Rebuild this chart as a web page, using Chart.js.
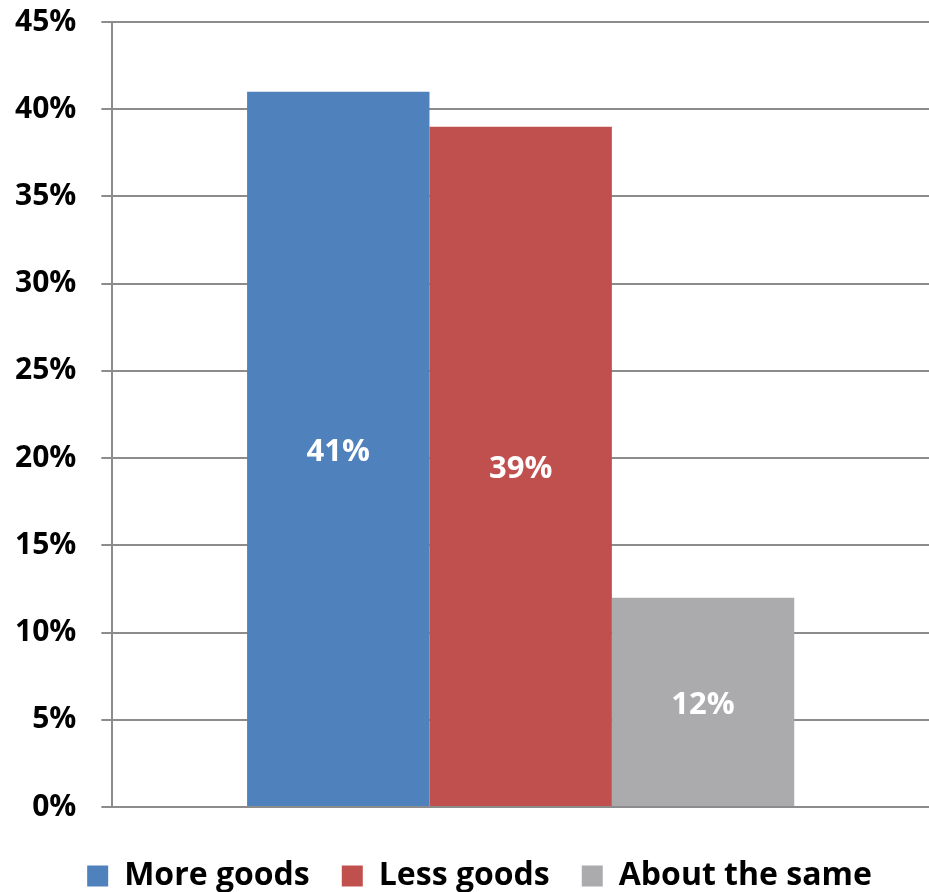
<!DOCTYPE html>
<html>
<head>
<meta charset="utf-8">
<script src="https://cdn.jsdelivr.net/npm/chart.js@4.4.0/dist/chart.umd.min.js"></script>
<style>
  html, body { margin: 0; padding: 0; background: #fff; }
  #wrap { width: 929px; height: 892px; }
</style>
</head>
<body>
<div id="wrap"><canvas id="goodsChart" width="929" height="892"></canvas></div>
<script>
// Data
const categories = [""];
const seriesNames = ["More goods", "Less goods", "About the same"];
const seriesValues = [41, 39, 12];
const seriesColors = ["#4F81BD", "#C0504D", "#ABABAD"];
const yTicks = [0, 5, 10, 15, 20, 25, 30, 35, 40, 45];

const fontFamily = "'Open Sans', 'DejaVu Sans', sans-serif";
const gridColor = "#8C8C8C";

// Draw value labels in the middle of each bar
const barLabels = {
  id: "barLabels",
  afterDatasetsDraw(chart) {
    const ctx = chart.ctx;
    ctx.save();
    ctx.fillStyle = "#fff";
    ctx.font = `bold 31px ${fontFamily}`;
    ctx.textAlign = "center";
    ctx.textBaseline = "middle";
    chart.data.datasets.forEach((ds, i) => {
      const meta = chart.getDatasetMeta(i);
      meta.data.forEach((bar, j) => {
        const mid = (bar.y + bar.base) / 2;
        ctx.fillText(ds.data[j] + "%", bar.x, mid + 3);
      });
    });
    ctx.restore();
  },
};

// Nudge the legend a little to the right, like the original
const legendShift = {
  id: "legendShift",
  afterLayout(chart) {
    if (chart.legend) {
      chart.legend.left += 20;
      chart.legend.right += 20;
    }
  },
};

const datasets = seriesNames.map((name, i) => ({
  label: name,
  data: [seriesValues[i]],
  backgroundColor: seriesColors[i],
  borderWidth: 0,
}));

new Chart(document.getElementById("goodsChart").getContext("2d"), {
  type: "bar",
  data: { labels: categories, datasets: datasets },
  options: {
    responsive: false,
    animation: false,
    categoryPercentage: 0.67,
    barPercentage: 1.0,
    layout: { padding: { left: -10, right: 0, top: 0, bottom: -10 } },
    plugins: {
      legend: {
        position: "bottom",
        labels: {
          boxWidth: 21,
          boxHeight: 21,
          padding: 32,
          color: "#000",
          font: { family: fontFamily, size: 32, weight: "bold" },
        },
      },
      tooltip: { enabled: false },
    },
    scales: {
      x: {
        grid: { display: false },
        border: { color: gridColor, width: 2 },
        ticks: { display: false },
        afterFit: (scale) => {
          scale.height += 13;
        },
      },
      y: {
        min: 0,
        max: 45,
        afterBuildTicks: (axis) => {
          axis.ticks = yTicks.map((v) => ({ value: v }));
        },
        afterFit: (scale) => {
          scale.paddingTop = 22;
          scale.paddingBottom = 22;
        },
        grid: { color: gridColor, lineWidth: 2, tickLength: 11 },
        border: { color: gridColor, width: 2 },
        ticks: {
          color: "#000",
          padding: 25,
          font: { family: fontFamily, size: 30, weight: "bold" },
          callback: (v) => v + "%",
        },
      },
    },
  },
  plugins: [barLabels, legendShift],
});
</script>
</body>
</html>
